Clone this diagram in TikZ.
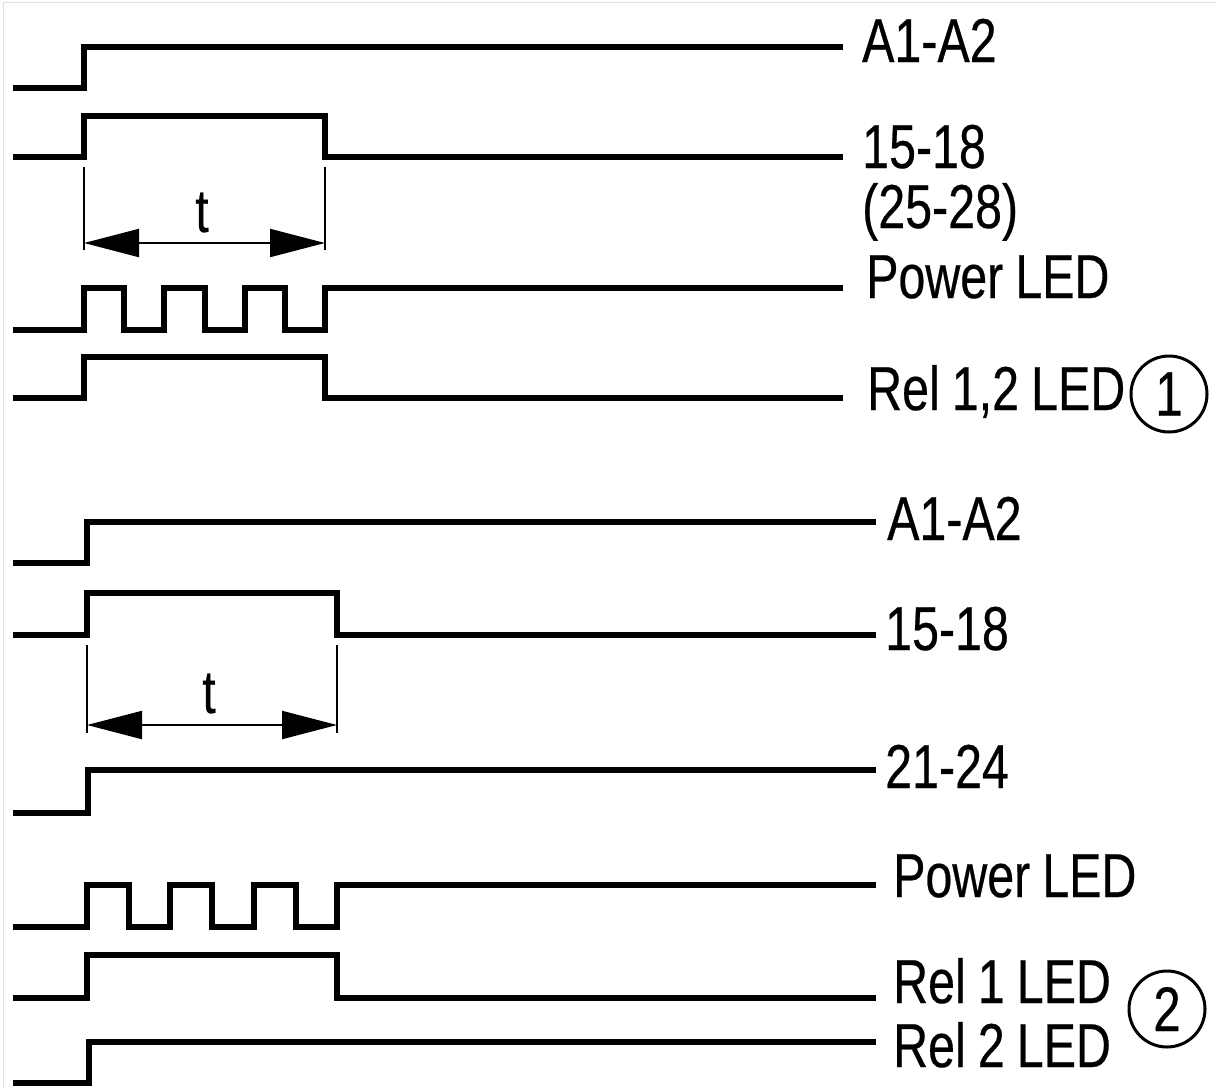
\documentclass[tikz,border=0pt]{standalone}
\usepackage{fontspec}
\setmainfont{Liberation Sans}[FakeStretch=0.78,FakeBold=0.4,WordSpace=0.9]
\usetikzlibrary{arrows.meta}

\tikzset{
  sig/.style={line width=6.5pt,line join=miter},
  dimline/.style={line width=2pt},
  lbl/.style={anchor=base west,inner sep=0pt,font=\fontsize{62}{66}\selectfont},
  tlbl/.style={anchor=base,inner sep=0pt,font=\fontsize{61}{66}\selectfont},
  numcirc/.style={circle,draw,line width=3pt,minimum size=76pt,inner sep=0pt,
    font=\fontsize{63}{66}\selectfont}
}

\begin{document}
\begin{tikzpicture}[x=1pt,y=-1pt,>={Triangle[length=55pt,width=28pt]}]
  \useasboundingbox (0,0) rectangle (1216,1088);
  \draw[black!12,line width=1pt] (3,1088) -- (3,2) -- (1216,2);

  % upper diagram
  \draw[sig] (13,88) -- (84,88) -- (84,47) -- (843,47);
  \node[lbl] (a1top) at (862,62) {A1-A2};

  \draw[sig] (13,157) -- (84,157) -- (84,116) -- (325,116) -- (325,157) -- (843,157);
  \node[lbl] (k15top) at (862,168) {15-18};
  \node[lbl] (k25top) at ([yshift=-60pt]k15top.base west) {(25-28)};

  \draw[dimline] (84,167) -- (84,250) (325,167) -- (325,250);
  \draw[dimline,<->] (84,243) -- (325,243);
  \node[tlbl] (ttop) at (202,232) {t};

  \draw[sig] (13,330) -- (84,330) -- (84,288) -- (124,288) -- (124,330) -- (164,330)
    -- (164,288) -- (205,288) -- (205,330) -- (245,330) -- (245,288) -- (285,288)
    -- (285,330) -- (325,330) -- (325,288) -- (843,288);
  \node[lbl] (pwrtop) at (866,298) {Power LED};

  \draw[sig] (13,398) -- (84,398) -- (84,357) -- (325,357) -- (325,398) -- (843,398);
  \node[lbl] (reltop) at (867,410) {Rel 1,2 LED};
  \node[numcirc] (c1) at (1169,394) {1};

  % lower diagram
  \draw[sig] (13,563) -- (87,563) -- (87,522) -- (876,522);
  \node[lbl] (a1bot) at (887,540) {A1-A2};

  \draw[sig] (13,635) -- (87,635) -- (87,593) -- (337,593) -- (337,635) -- (876,635);
  \node[lbl] (k15bot) at (885,650) {15-18};

  \draw[dimline] (87,645) -- (87,733) (337,645) -- (337,733);
  \draw[dimline,<->] (87,725) -- (337,725);
  \node[tlbl] (tbot) at (209,713) {t};

  \draw[sig] (13,813) -- (88,813) -- (88,770) -- (876,770);
  \node[lbl] (k21bot) at (885,788) {21-24};

  \draw[sig] (13,927) -- (87,927) -- (87,885) -- (129,885) -- (129,927) -- (170,927)
    -- (170,885) -- (212,885) -- (212,927) -- (254,927) -- (254,885) -- (296,885)
    -- (296,927) -- (337,927) -- (337,885) -- (876,885);
  \node[lbl] (pwrbot) at (893,897) {Power LED};

  \draw[sig] (13,998) -- (87,998) -- (87,955) -- (337,955) -- (337,998) -- (876,998);
  \node[lbl] (rel1bot) at (893,1003) {Rel 1 LED};

  \draw[sig] (13,1083) -- (89,1083) -- (89,1042) -- (876,1042);
  \node[lbl] (rel2bot) at (893,1067) {Rel 2 LED};
  \node[numcirc] (c2) at (1167,1009) {2};
\end{tikzpicture}
\end{document}
